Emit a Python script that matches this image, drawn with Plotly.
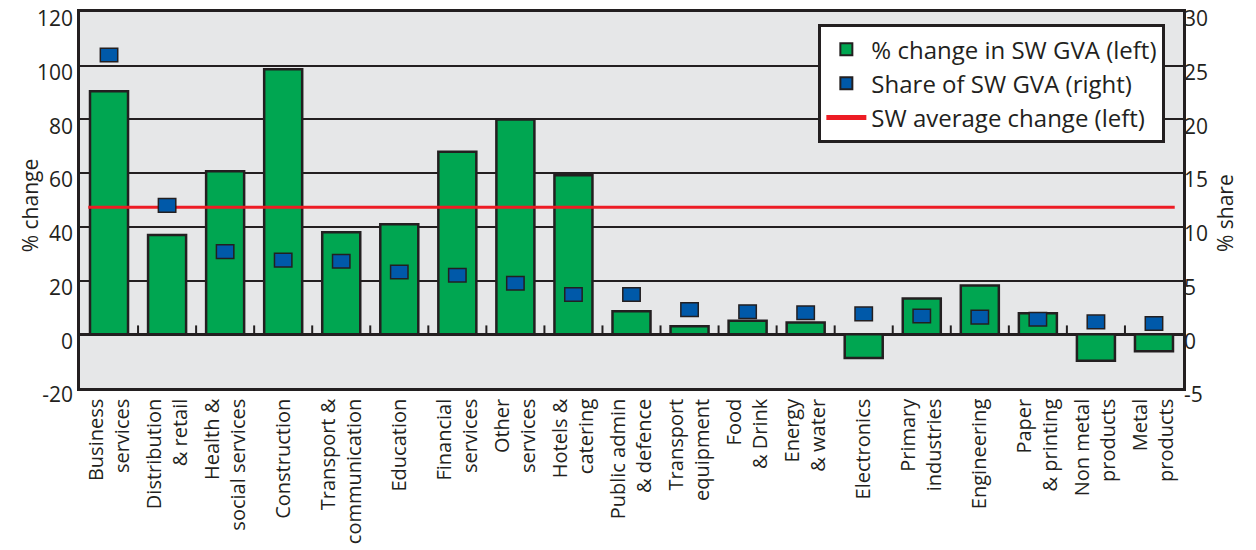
import plotly.graph_objects as go

# Sector labels (multi-line, rotated on the axis)
sectors = [
    "Business<br>services", "Distribution<br>& retail", "Health &<br>social services",
    "Construction", "Transport &<br>communication", "Education",
    "Financial<br>services", "Other<br>services", "Hotels &<br>catering",
    "Public admin<br>& defence", "Transport<br>equipment", "Food<br>& Drink",
    "Energy<br>& water", "Electronics", "Primary<br>industries", "Engineering",
    "Paper<br>& printing", "Non metal<br>products", "Metal<br>products",
]

# % change in SW GVA (left axis)
pct_change = [90.5, 37.0, 60.7, 98.7, 38.0, 41.0, 68.0, 80.0, 59.2, 8.6,
              3.0, 5.0, 4.4, -8.8, 13.3, 18.2, 7.8, -9.9, -6.3]

# Share of SW GVA (right axis)
share = [26.0, 12.0, 7.7, 6.9, 6.8, 5.8, 5.5, 4.75, 3.7, 3.7,
         2.3, 2.1, 2.0, 1.9, 1.7, 1.6, 1.4, 1.15, 1.0]

# SW average change (left axis)
sw_average = 47.3

# Axis tick values and labels
left_ticks = [-20, 0, 20, 40, 60, 80, 100, 120]
right_ticks = [-5, 0, 5, 10, 15, 20, 25, 30]

GREEN = "#00a651"
BLUE = "#0059a9"
RED = "#ed1c24"
INK = "#231f20"
FONT = "Open Sans"

xs = list(range(len(sectors)))
bar_w = 0.655
mark_w, mark_h = 0.30, 1.27  # share-marker box: width in categories, height in share units

fig = go.Figure()

fig.add_trace(go.Bar(
    x=xs, y=pct_change, width=bar_w, name="% change in SW GVA (left)",
    marker=dict(color=GREEN, line=dict(color=INK, width=2.5)),
    yaxis="y",
))

fig.add_trace(go.Bar(
    x=xs, y=[mark_h] * len(share), base=[s - mark_h / 2 for s in share],
    width=mark_w, name="Share of SW GVA (right)",
    marker=dict(color=BLUE, line=dict(color=INK, width=1.5)),
    yaxis="y2",
))

fig.add_trace(go.Scatter(
    x=[xs[0] - bar_w / 2 - 0.03, xs[-1] + bar_w / 2 + 0.03],
    y=[sw_average, sw_average], mode="lines", name="SW average change (left)",
    line=dict(color=RED, width=3),
    yaxis="y",
))

# small upward ticks on the zero line between sectors
shapes = [
    dict(type="line", xref="x", yref="y", x0=i + 0.5, x1=i + 0.5, y0=0, y1=3.3,
         line=dict(color=INK, width=2), layer="below")
    for i in xs[:-1]
]

# axis titles
annotations = [
    dict(text="% change", xref="paper", yref="paper", x=-0.045, y=0.487,
         xanchor="center", yanchor="middle",
         textangle=-90, showarrow=False, font=dict(size=21, color=INK)),
    dict(text="% share", xref="paper", yref="paper", x=1.038, y=0.465,
         xanchor="center", yanchor="middle",
         textangle=-90, showarrow=False, font=dict(size=21, color=INK)),
]

fig.update_layout(
    width=1256, height=550,
    margin=dict(l=80, r=73, t=12, b=162, autoexpand=False),
    paper_bgcolor="white", plot_bgcolor="#e6e7e8",
    barmode="overlay",
    font=dict(family=FONT, size=21, color=INK),
    shapes=shapes,
    annotations=annotations,
    showlegend=True,
    legend=dict(
        x=0.984, y=0.968, xanchor="right", yanchor="top",
        bgcolor="white", bordercolor=INK, borderwidth=3,
        font=dict(family=FONT, size=24, color=INK),
        tracegroupgap=0, itemsizing="constant", itemwidth=40,
    ),
    xaxis=dict(
        range=[-0.5, len(sectors) - 0.5],
        tickmode="array", tickvals=xs, ticktext=sectors, tickangle=-90,
        tickfont=dict(size=20), ticks="", showgrid=False, zeroline=False,
        showline=True, linecolor=INK, linewidth=2.5, mirror=True,
        automargin=False, ticklabeloverflow="allow",
    ),
    yaxis=dict(
        range=[-20, 120], tickmode="array", tickvals=left_ticks,
        ticktext=[str(v) for v in left_ticks],
        showgrid=True, gridcolor=INK, gridwidth=2,
        zeroline=True, zerolinecolor=INK, zerolinewidth=2.5,
        showline=True, linecolor=INK, linewidth=2.5, mirror=True,
        ticks="", automargin=False, ticklabeloverflow="allow",
        ticklabelshift=7,
    ),
    yaxis2=dict(
        range=[-5, 30], tickmode="array", tickvals=right_ticks,
        ticktext=[str(v) for v in right_ticks],
        overlaying="y", side="right", showgrid=False, zeroline=False,
        ticks="", automargin=False, ticklabeloverflow="allow",
        ticklabelshift=7,
    ),
)

fig.write_html("out.html")
